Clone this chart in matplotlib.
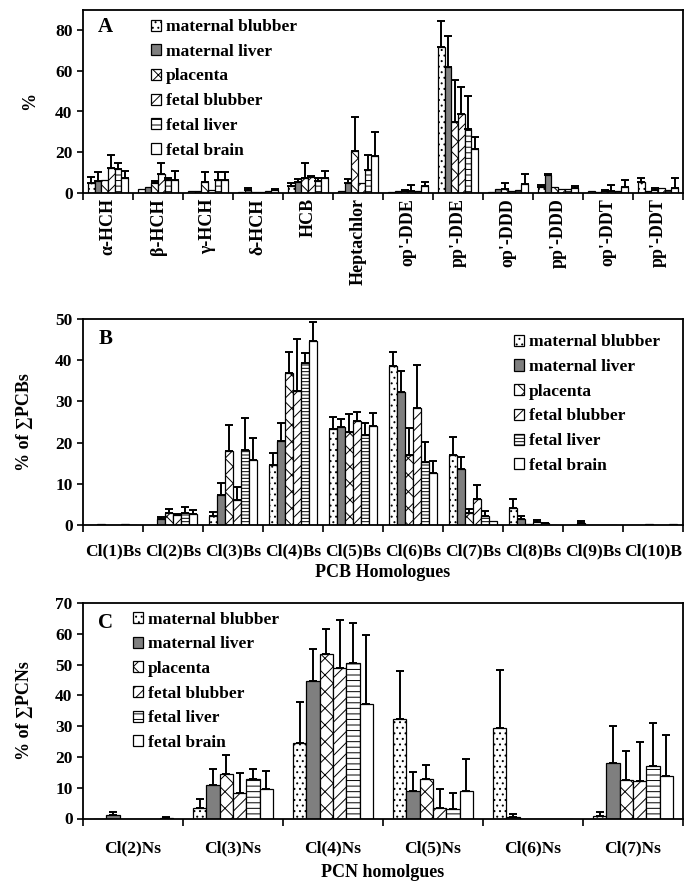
import numpy as np
import matplotlib
matplotlib.use("Agg")
import matplotlib.pyplot as plt

plt.rcParams['font.family'] = ['Liberation Serif', 'DejaVu Serif']
plt.rcParams['font.weight'] = 'bold'
plt.rcParams['hatch.linewidth'] = 0.7

series_names = ["maternal blubber", "maternal liver", "placenta",
                "fetal blubber", "fetal liver", "fetal brain"]

# ---------------- Panel A ----------------
cats_a = ["α-HCH", "β-HCH", "γ-HCH", "δ-HCH", "HCB", "Heptachlor",
          "op'-DDE", "pp'-DDE", "op'-DDD", "pp'-DDD", "op'-DDT", "pp'-DDT"]
a_mat_blubber = [5, 2, 1, 0.2, 3.5, 1, 0.3, 72, 0.5, 3, 1, 5.5]
a_mat_liver   = [6, 3, 1, 1.5, 5.5, 5, 0.8, 62, 1.8, 8.5, 0.5, 1]
a_placenta    = [6.5, 5, 5.5, 0.3, 7, 20.5, 1, 35, 1.8, 3, 0.8, 1.5]
a_fet_blubber = [12, 9, 1.5, 0.5, 7.5, 5, 1, 39, 1, 2, 1, 2.5]
a_fet_liver   = [11.5, 6.5, 6.5, 0.8, 6, 11, 0.8, 31.5, 1.5, 2, 0.8, 1.5]
a_fet_brain   = [7, 6.5, 6.5, 1.2, 7, 18, 3.5, 21.5, 4.5, 2.5, 3, 2.5]
# tops of the error bars (0 = no error bar)
a_mat_blubber_top = [7.9, 0, 0, 0, 5, 0, 0, 84.4, 0, 3.8, 0, 7.3]
a_mat_liver_top   = [10, 0, 0, 2.2, 6.6, 6.6, 0, 77.4, 0, 9.2, 0, 0]
a_placenta_top    = [0, 6, 10.4, 0, 14.8, 37.5, 1.5, 55.3, 4.6, 0, 1.5, 2.5]
a_fet_blubber_top = [18.6, 14.8, 0, 0, 8, 0, 3.8, 52.3, 0, 0, 3.8, 0]
a_fet_liver_top   = [14.8, 7, 10.4, 0, 7, 18.6, 0, 47.7, 0, 0, 0, 0]
a_fet_brain_top   = [10.7, 10.7, 10.4, 1.7, 10.9, 30, 5.4, 27.6, 9, 3.2, 6.3, 7.1]

# ---------------- Panel B ----------------
cats_b = ["Cl(1)Bs", "Cl(2)Bs", "Cl(3)Bs", "Cl(4)Bs", "Cl(5)Bs",
          "Cl(6)Bs", "Cl(7)Bs", "Cl(8)Bs", "Cl(9)Bs", "Cl(10)B"]
b_mat_blubber = [0.1, 0.1, 2.2, 14.5, 23.2, 38.7, 16.9, 4.2, 0, 0]
b_mat_liver   = [0.2, 1.5, 7.3, 20.3, 23.7, 32.3, 13.7, 1.5, 0.6, 0]
b_placenta    = [0.1, 3, 18, 37, 22.6, 17, 3, 0.3, 0, 0.2]
b_fet_blubber = [0, 2.4, 6, 32.5, 25.2, 28.3, 6.2, 0.8, 0, 0]
b_fet_liver   = [0.2, 3, 18.3, 39.2, 21.8, 15.3, 2.2, 0.4, 0, 0]
b_fet_brain   = [0, 2.6, 15.7, 44.7, 24, 12.6, 1, 0.1, 0, 0.2]
b_mat_blubber_top = [0, 0, 3.1, 17.5, 26.1, 41.9, 21.4, 6.4, 0, 0]
b_mat_liver_top   = [0, 1.9, 10.3, 24.8, 25.7, 37.5, 16.5, 2.1, 0.9, 0]
b_placenta_top    = [0, 3.8, 24.2, 42, 26.9, 23.5, 4, 0, 0, 0]
b_fet_blubber_top = [0, 2.7, 9.3, 45.1, 27.5, 38.8, 9.6, 1.3, 0, 0]
b_fet_liver_top   = [0, 4.4, 26, 41.8, 24.7, 20.2, 3.3, 0.6, 0, 0]
b_fet_brain_top   = [0, 3.6, 21, 49.3, 27.3, 15.5, 1, 0, 0, 0]

# ---------------- Panel C ----------------
cats_c = ["Cl(2)Ns", "Cl(3)Ns", "Cl(4)Ns", "Cl(5)Ns", "Cl(6)Ns", "Cl(7)Ns"]
c_mat_blubber = [0, 3.5, 24.5, 32.2, 29.5, 0.8]
c_mat_liver   = [1, 11, 44.8, 9, 0.5, 18]
c_placenta    = [0, 14.5, 53.5, 12.7, 0, 12.5]
c_fet_blubber = [0, 8.3, 48.8, 3.5, 0, 12.3]
c_fet_liver   = [0, 12.8, 50.5, 3, 0, 17.2]
c_fet_brain   = [0.3, 9.7, 37.3, 8.8, 0, 13.7]
c_mat_blubber_top = [0, 6.2, 38, 48, 48.3, 2]
c_mat_liver_top   = [2, 16, 55.2, 15.2, 1.3, 30]
c_placenta_top    = [0, 20.5, 61.7, 17.5, 0, 22]
c_fet_blubber_top = [0, 14.7, 64.5, 9.5, 0, 25]
c_fet_liver_top   = [0, 16, 63.5, 8.3, 0, 31]
c_fet_brain_top   = [0.5, 15.5, 59.6, 19.3, 0, 27]

W, H = 691, 881
fig = plt.figure(figsize=(W / 100, H / 100), dpi=100)


def axes_px(left, top, right, bottom):
    return fig.add_axes([left / W, 1 - bottom / H, (right - left) / W, (bottom - top) / H])


def panel(ax, cats, vals, tops, hatches, faces, ymax, ystep, letter,
          ylabel, xlabel, rot, tickpad, leg_anchor, ylabel_x, xlabel_y, xfs):
    n = len(cats)
    x = np.arange(n)
    w = 0.8 / 6
    for j in range(6):
        xs = x + (j - 2.5) * w
        v = np.array(vals[j], dtype=float)
        t = np.array(tops[j], dtype=float)
        ax.bar(xs, v, width=w, color=faces[j], edgecolor='black', linewidth=0.9,
               hatch=hatches[j], label=series_names[j], zorder=2)
        m = t > v
        if m.any():
            ax.errorbar(xs[m], v[m], yerr=[np.zeros(m.sum()), (t - v)[m]], fmt='none',
                        ecolor='black', elinewidth=1.4, capsize=2.8, capthick=1.4, zorder=3)
    ax.set_xlim(-0.5, n - 0.5)
    ax.set_ylim(0, ymax)
    ax.set_yticks(np.arange(0, ymax + 0.1, ystep))
    ax.set_xticks(np.arange(n + 1) - 0.5)
    ax.set_xticklabels([])
    ax.set_xticks(x, minor=True)
    ax.set_xticklabels(cats, minor=True, rotation=rot, fontsize=xfs, fontweight='bold')
    ax.tick_params(axis='x', which='major', direction='out', length=5, width=1.2)
    ax.tick_params(axis='x', which='minor', length=0, pad=tickpad)
    ax.tick_params(axis='y', direction='out', length=4, width=1.2, labelsize=12.5)
    for lab in ax.get_yticklabels():
        lab.set_fontweight('bold')
    for s in ax.spines.values():
        s.set_linewidth(1.3)
    ax.text(0.037, 0.905, letter, transform=ax.transAxes, fontsize=15,
            fontweight='bold', ha='center', va='center')
    ax.set_ylabel(ylabel, fontsize=13, fontweight='bold')
    ax.yaxis.set_label_coords(ylabel_x, 0.5)
    if xlabel:
        ax.set_xlabel(xlabel, fontsize=13, fontweight='bold')
        ax.xaxis.set_label_coords(0.5, xlabel_y)
    ax.legend(loc='upper left', bbox_to_anchor=leg_anchor, frameon=False,
              prop={'size': 12.5, 'weight': 'bold'}, handlelength=0.6,
              handleheight=0.6, handletextpad=0.25, labelspacing=0.5,
              borderpad=0, borderaxespad=0)


gray = '#7f7f7f'
faces = ['white', gray, 'white', 'white', 'white', 'white']

axA = axes_px(83, 10, 683, 192.7)
panel(axA, cats_a,
      [a_mat_blubber, a_mat_liver, a_placenta, a_fet_blubber, a_fet_liver, a_fet_brain],
      [a_mat_blubber_top, a_mat_liver_top, a_placenta_top, a_fet_blubber_top,
       a_fet_liver_top, a_fet_brain_top],
      ['...', '', 'xx', '///', '---', ''], faces, 90, 20, 'A', '%', None, 90, 4,
      (0.113, 0.95), -0.074, None, 13)

axB = axes_px(83, 319, 683, 525)
panel(axB, cats_b,
      [b_mat_blubber, b_mat_liver, b_placenta, b_fet_blubber, b_fet_liver, b_fet_brain],
      [b_mat_blubber_top, b_mat_liver_top, b_placenta_top, b_fet_blubber_top,
       b_fet_liver_top, b_fet_brain_top],
      ['...', '', 'xx', '///', '-----', ''], faces, 50, 10, 'B', '% of ∑PCBs',
      'PCB Homologues', 0, 13, (0.718, 0.925), -0.083, -0.19, 12.5)

axC = axes_px(83, 603, 683, 818.5)
panel(axC, cats_c,
      [c_mat_blubber, c_mat_liver, c_placenta, c_fet_blubber, c_fet_liver, c_fet_brain],
      [c_mat_blubber_top, c_mat_liver_top, c_placenta_top, c_fet_blubber_top,
       c_fet_liver_top, c_fet_brain_top],
      ['...', '', 'xx', '///', '---', ''], faces, 70, 10, 'C', '% of ∑PCNs',
      'PCN homolgues', 0, 16, (0.083, 0.96), -0.083, -0.212, 12.5)

fig.savefig("out.png", dpi=100)
